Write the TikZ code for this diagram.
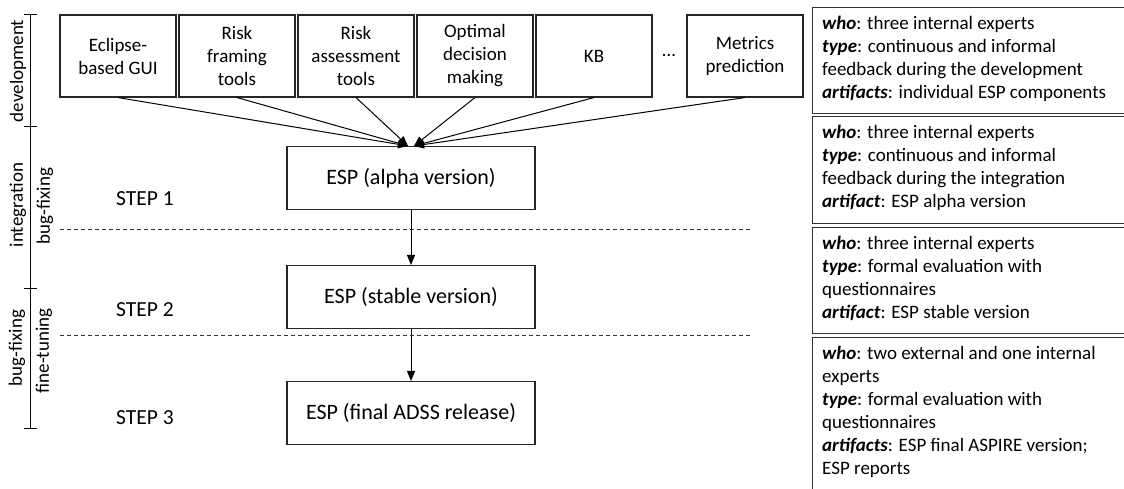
\documentclass[tikz,border=0pt]{standalone}
\usepackage{fontspec}
\setmainfont{Carlito}
\usetikzlibrary{arrows.meta}
\newcommand{\keyw}[1]{\textbf{\textit{#1}}}
\begin{document}
\begin{tikzpicture}[x=1pt,y=-1pt,
  box/.style={draw=black!85, line width=1.1pt, minimum width=116pt, minimum height=82pt, align=center, inner sep=2pt, font=\fontsize{19}{23}\selectfont},
  esp/.style={draw=black!85, line width=1.1pt, minimum width=248pt, minimum height=63pt, font=\fontsize{22}{26}\selectfont},
  info/.style={draw=black!80, line width=1.3pt, minimum width=314pt, anchor=north west, inner sep=0pt},
  infotext/.style={anchor=north west, align=left, inner xsep=10pt, inner ysep=9pt, font=\fontsize{19}{23}\selectfont},
  arr/.style={-{Triangle[length=10pt,width=8pt]}, line width=1pt},
  lab/.style={rotate=90, font=\fontsize{19}{23}\selectfont},
  steplab/.style={font=\fontsize{21.5}{26}\selectfont},
  sep/.style={dash pattern=on 4pt off 3pt, line width=0.9pt, draw=black!80},
  axis/.style={line width=1pt}]
\useasboundingbox (0,0) rectangle (1124,489);
\clip (0,0) rectangle (1124,489);

% top components
\node[box] (gui) at (118,56) {Eclipse-\\based GUI};
\node[box] (frame) at (237,56) {Risk\\framing\\tools};
\node[box] (assess) at (356,56) {Risk\\assessment\\tools};
\node[box] (opt) at (475,56) {Optimal\\decision\\making};
\node[box] (kb) at (594,56) {KB};
\node[font=\fontsize{19}{23}\selectfont] (dots) at (669,56) {…};
\node[box] (metrics) at (745,56) {Metrics\\prediction};

% ESP versions
\node[esp] (alpha) at (411,178) {ESP (alpha version)};
\node[esp] (stable) at (411,297) {ESP (stable version)};
\node[esp] (final) at (411,413) {ESP (final ADSS release)};

\draw[arr] (gui.south) -- ([xshift=-3pt]alpha.north);
\draw[arr] (frame.south) -- ([xshift=-3pt]alpha.north);
\draw[arr] (assess.south) -- ([xshift=-3pt]alpha.north);
\draw[arr] (opt.south) -- ([xshift=3pt]alpha.north);
\draw[arr] (kb.south) -- ([xshift=3pt]alpha.north);
\draw[arr] (metrics.south) -- ([xshift=3pt]alpha.north);
\draw[arr] (alpha) -- (stable);
\draw[arr] (stable) -- (final);

% steps
\node[steplab] (s1) at (145,199) {STEP 1};
\node[steplab] (s2) at (145,310) {STEP 2};
\node[steplab] (s3) at (145,418) {STEP 3};

% dashed separators
\coordinate (d1a) at (60,229); \coordinate (d1b) at (752,229);
\coordinate (d2a) at (60,335); \coordinate (d2b) at (752,335);
\draw[sep] (d1a) -- (d1b);
\draw[sep] (d2a) -- (d2b);

% phase axis
\coordinate (a0) at (30,15); \coordinate (a1) at (30,127);
\coordinate (a2) at (30,288); \coordinate (a3) at (30,428);
\draw[axis] (a0) -- (a3);
\foreach \c in {a0,a1,a2,a3} \draw[axis] ([xshift=-6pt]\c) -- ([xshift=7pt]\c);
\node[lab] (ldev) at (18,71) {development};
\node[lab] (lint) at (18,205) {integration};
\node[lab] (lbug1) at (45,206) {bug-fixing};
\node[lab] (lbug2) at (17,348) {bug-fixing};
\node[lab] (lfine) at (44,351) {fine-tuning};

% right column
\node[info, minimum height=106pt] (r1) at (812,7) {};
\node[infotext] (t1) at (r1.north west) {\keyw{who}: three internal experts\\\keyw{type}: continuous and informal\\feedback during the development\\\keyw{artifacts}: individual ESP components};
\node[info, minimum height=107pt] (r2) at (812,116) {};
\node[infotext] (t2) at (r2.north west) {\keyw{who}: three internal experts\\\keyw{type}: continuous and informal\\feedback during the integration\\\keyw{artifact}: ESP alpha version};
\node[info, minimum height=106pt] (r3) at (812,227) {};
\node[infotext] (t3) at (r3.north west) {\keyw{who}: three internal experts\\\keyw{type}: formal evaluation with\\questionnaires\\\keyw{artifact}: ESP stable version};
\node[info, minimum height=180pt] (r4) at (812,337) {};
\node[infotext] (t4) at (r4.north west) {\keyw{who}: two external and one internal\\experts\\\keyw{type}: formal evaluation with\\questionnaires\\\keyw{artifacts}: ESP final ASPIRE version;\\ESP reports};
\end{tikzpicture}
\end{document}
